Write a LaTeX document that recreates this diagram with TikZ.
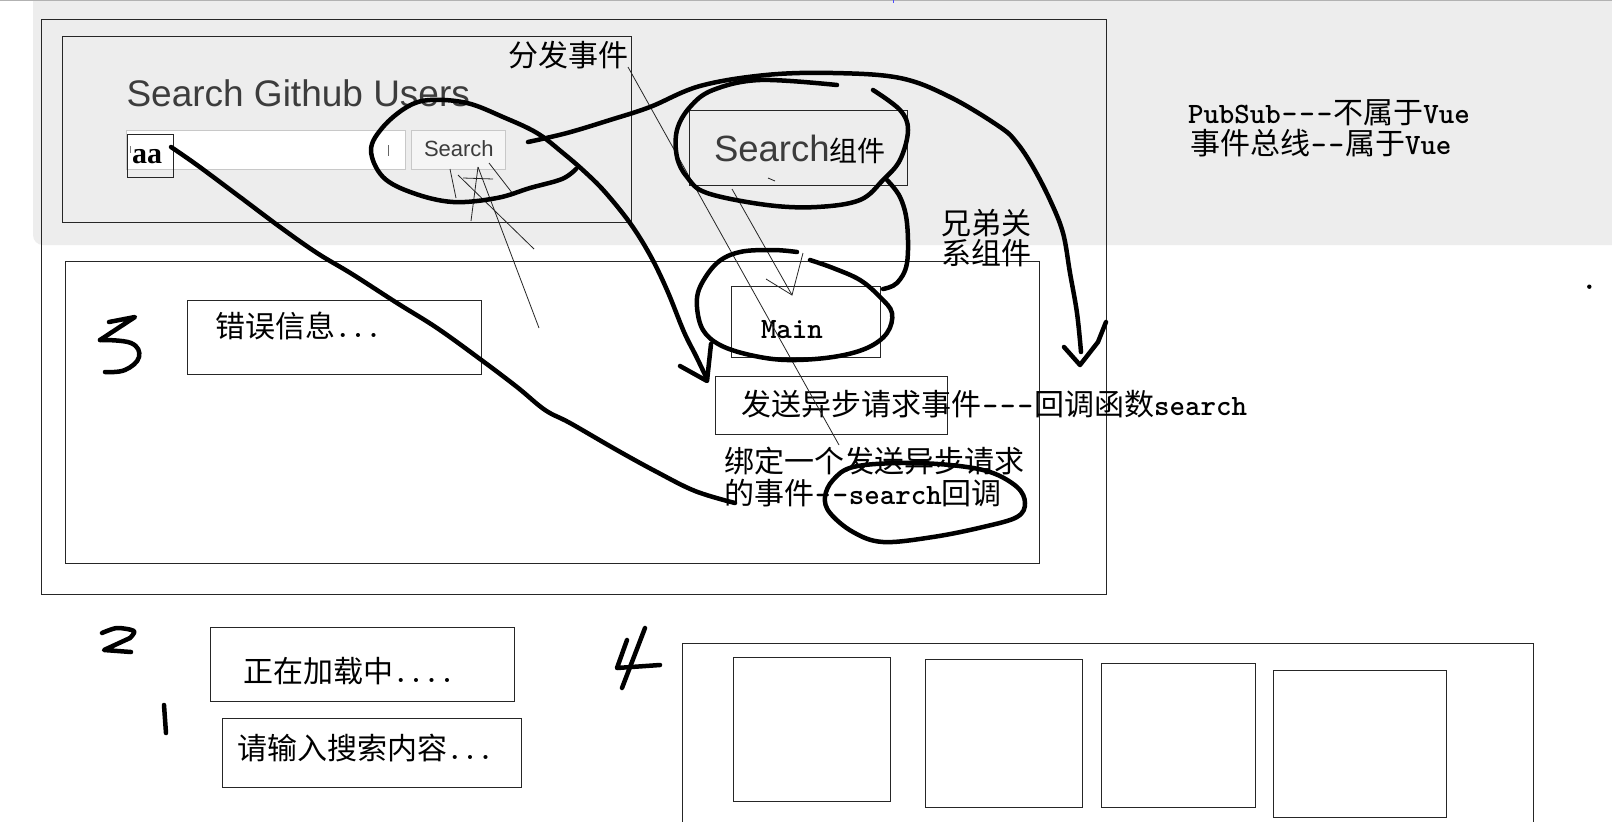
\documentclass[tikz,border=0pt]{standalone}
\usepackage{fontspec}
\newfontfamily\cjk{Noto Sans CJK SC}
\newfontfamily\ars{Liberation Sans}
\newfontfamily\tms{Liberation Serif}
\newcommand\hy{\makebox[17.5pt]{-}}
\newcommand\C[1]{{\cjk\fontsize{30}{32}\selectfont #1}}
\newcommand\T[1]{{\ttfamily\bfseries\fontsize{29.5}{32}\selectfont #1}}
\definecolor{bggray}{RGB}{237,237,237}
\definecolor{txtgray}{RGB}{60,60,60}
\definecolor{edgegray}{RGB}{200,200,200}
\begin{document}
\begin{tikzpicture}[x=1pt,y=-1pt,
  box/.style={draw=black!85,line width=1pt},
  hand/.style={line width=4.5pt,line cap=round,line join=round},
  thinl/.style={line width=0.8pt,draw=black!85},
  lbl/.style={anchor=base west,inner sep=0pt,outer sep=0pt}]
\useasboundingbox (0,0) rectangle (1612,822);
\fill[white] (0,0) rectangle (1612,822);
% screenshot background
\fill[bggray,rounded corners=10pt] (33,-20) -- (33,245) -- (1650,245) -- (1650,-20) -- cycle;
\draw[black!30,line width=1.2pt] (0,0.6) -- (1612,0.6);
\draw[blue!70,line width=1pt] (893,0) -- (893,3);
% frames
\draw[box] (41,19.5) rectangle (1106.7,594);
\draw[box] (62.7,36) rectangle (631.7,222.7);
\draw[box] (65,261) rectangle (1039,563.5);
% search header
\node[lbl,text=txtgray] (title) at (126.5,106) {\ars\fontsize{37}{40}\selectfont Search Github Users};
\draw[fill=white,draw=edgegray,line width=1pt] (126.5,130.7) rectangle (405,169);
\draw[black!60,line width=1pt] (388,145) -- (388,156);
\draw[box] (127,134) rectangle (173,177);
\draw[black!50,line width=1pt] (130.5,146) -- (130.5,153);
\node[lbl] (aa) at (132,163.3) {\tms\bfseries\fontsize{30}{34}\selectfont aa};
\draw[fill=black!4,draw=edgegray,line width=1pt] (411.7,130.7) rectangle (505.3,169);
\node[lbl,text=txtgray] (btn) at (424,156.7) {\ars\fontsize{22}{24}\selectfont Search};
\node[lbl] (fenfa) at (508,66.3) {\C{分发事件}};
% Search component
\draw[box] (689,110) rectangle (907.7,185.7);
\node[lbl] (scomp) at (714,161.7) {{\color{txtgray}\ars\fontsize{36.5}{40}\selectfont Search}{\cjk\fontsize{28}{30}\selectfont 组件}};
\node[lbl] (xd1) at (941.5,234) {\C{兄弟关}};
\node[lbl] (xd2) at (941.5,264) {\C{系组件}};
\node[lbl] (pub1) at (1188,123) {\T{PubSub\hy\hy\hy}\C{不属于}\T{Vue}};
\node[lbl] (pub2) at (1190,154.5) {\C{事件总线}\T{\hy\hy}\C{属于}\T{Vue}};
\fill (1589.3,286.7) circle (2.2);
% main area
\draw[box] (187.3,300.7) rectangle (481.7,374.3);
\node[lbl] (err) at (215,337) {\C{错误信息}\T{...}};
\draw[box] (731.7,286.7) rectangle (880,357.3);
\node[lbl] (main) at (761,338.3) {\T{Main}};
\draw[box] (715,376.7) rectangle (947.7,434);
\node[lbl] (send) at (741.7,415.5) {\C{发送异步请求事件}\T{\hy\hy\hy}\C{回调函数}\T{search}};
\node[lbl] (bind1) at (724,472) {\C{绑定一个发送异步请求}};
\node[lbl] (bind2) at (724,504.5) {\C{的事件}\T{\hy\hy search}\C{回调}};
% bottom
\draw[box] (210.8,627) rectangle (514,701);
\node[lbl] (load) at (243,682) {\C{正在加载中}\T{....}};
\draw[box] (222.8,718.3) rectangle (521,787.3);
\node[lbl] (inp) at (237,759) {\C{请输入搜索内容}\T{...}};
\draw[box] (682.6,643) rectangle (1533,840);
\draw[box] (733,657) rectangle (890.5,801);
\draw[box] (925.5,659.5) rectangle (1082,807.5);
\draw[box] (1101.5,663) rectangle (1255.5,807.5);
\draw[box] (1273,670.7) rectangle (1446,817);
% thin pen lines
\draw[thinl] (628,67) -- (839,445);
\draw[thinl] (732,189) -- (792,295);
\draw[thinl] (766,279) -- (792,295) -- (803,253);
\draw[thinl] (450,169) -- (456,198);
\draw[thinl] (478,167) -- (471,221);
\draw[thinl] (478,167) -- (539,328);
\draw[thinl] (458,175) -- (534,249);
\draw[thinl] (489,163) -- (513,194);
\draw[thinl] (463,178) -- (493,179);
\draw[thinl] (768,178) -- (775,181);
% hand-drawn strokes
\draw[hand] plot[smooth,tension=0.6] coordinates {(171,147) (197,165) (240,197) (280,227) (317,253) (352,274) (397,303) (437,328) (480,359) (517,387) (545,410) (570,423) (615,449) (655,471) (695,491) (735,503)};
\draw[hand] plot[smooth,tension=0.6] coordinates {(576,169) (562,179) (530,188) (497,198) (453,202) (413,193) (383,177) (371,150) (383,127) (407,107) (430,100) (467,103) (503,117) (537,133) (563,153) (585,172) (605,192) (630,223) (650,255) (667,290) (684,332) (696,356) (707,379)};
\draw[hand] (680,366) -- (707,381) -- (711,344);
\draw[hand] plot[smooth,tension=0.6] coordinates {(528,142) (567,133) (610,120) (650,107) (700,86) (766,75) (833,73) (900,78) (950,97) (1000,127) (1017,143) (1033,167) (1050,200) (1063,233) (1070,273) (1077,313) (1081,352)};
\draw[hand] (1064,347) -- (1080,365) -- (1098,342) -- (1106,322);
\draw[hand] plot[smooth,tension=0.6] coordinates {(873,90) (900,110) (908,130) (900,160) (883,180) (860,200) (817,207) (767,205) (707,193) (687,177) (677,157) (677,130) (690,107) (713,90) (760,80) (837,85)};
\draw[hand] plot[smooth,tension=0.6] coordinates {(887,180) (900,197) (907,223) (907,263) (897,283) (883,289)};
\draw[hand] plot[smooth,tension=0.6] coordinates {(797,252) (773,250) (740,252) (717,263) (700,287) (697,307) (703,330) (720,345) (750,355) (787,360) (833,357) (867,348) (887,333) (892,313) (880,297) (860,280) (833,268) (810,260)};
\draw[hand] plot[smooth cycle,tension=0.6] coordinates {(853,467) (900,463) (950,465) (990,472) (1017,487) (1025,503) (1017,517) (983,527) (933,537) (883,542) (853,532) (830,513) (825,497) (833,480)};
% hand digits
\draw[hand] (109,322) -- (135,317) -- (100,340);
\draw[hand] plot[smooth,tension=0.7] coordinates {(100,340) (131,343) (139,357) (125,370) (105,372)};
\draw[hand] plot[smooth,tension=0.5] coordinates {(102,633) (117,628) (134,631) (130,638)};
\draw[hand] (130,638) -- (104,650) -- (131,652);
\draw[hand] (164,705) -- (166,733);
\draw[hand] (627,640) -- (617,668) -- (660,665);
\draw[hand] (645,628) -- (622,688);
\end{tikzpicture}
\end{document}
